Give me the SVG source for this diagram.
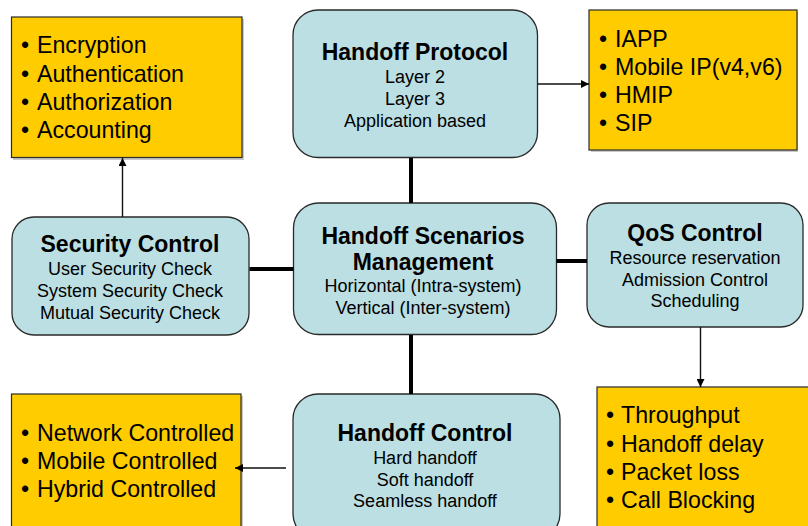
<svg xmlns="http://www.w3.org/2000/svg" width="808" height="526" viewBox="0 0 808 526">
  <style>
    .node { fill: #BBDFE2; stroke: #2a2a2a; stroke-width: 1.3; }
    .list { fill: #FFCC00; stroke: #2a2a2a; stroke-width: 1.2; }
    .shadow { fill: #9a9a9a; opacity: 0.55; }
    .title { font-family: "Liberation Sans", Arial, sans-serif; font-weight: bold; font-size: 23px; fill: #000; text-anchor: middle; }
    .sub { font-family: "Liberation Sans", Arial, sans-serif; font-size: 18px; fill: #000; text-anchor: middle; }
    .item { font-family: "Liberation Sans", Arial, sans-serif; font-size: 23.2px; fill: #000; }
    .trunk { stroke: #000; stroke-width: 4; fill: none; }
    .link { stroke: #111; stroke-width: 1.4; fill: none; marker-end: url(#arrow); }
  </style>
  <defs>
    <marker id="arrow" viewBox="0 0 10 10" refX="10" refY="5" markerWidth="8" markerHeight="8" markerUnits="userSpaceOnUse" orient="auto">
      <path d="M0,0 L10,5 L0,10 z" fill="#000"/>
    </marker>
  </defs>

  <rect width="808" height="526" fill="#fff"/>

  <!-- security attributes -->
  <g id="security-list">
    <rect class="shadow" x="13" y="19" width="231" height="141"/>
    <rect class="list" x="11.5" y="17" width="230.5" height="140.5"/>
    <text class="item" y="53"><tspan x="21">•</tspan><tspan x="37">Encryption</tspan></text>
    <text class="item" y="81.5"><tspan x="21">•</tspan><tspan x="37">Authentication</tspan></text>
    <text class="item" y="110"><tspan x="21">•</tspan><tspan x="37">Authorization</tspan></text>
    <text class="item" y="138"><tspan x="21">•</tspan><tspan x="37">Accounting</tspan></text>
  </g>

  <!-- handoff protocol -->
  <g id="handoff-protocol">
    <rect class="node" x="293" y="10" width="244.5" height="147.5" rx="25"/>
    <text class="title" x="415" y="60">Handoff Protocol</text>
    <text class="sub" x="415" y="83">Layer 2</text>
    <text class="sub" x="415" y="105">Layer 3</text>
    <text class="sub" x="415" y="127">Application based</text>
  </g>

  <!-- protocol list -->
  <g id="protocol-list">
    <rect class="shadow" x="591" y="12" width="207" height="140"/>
    <rect class="list" x="589" y="10" width="208" height="140"/>
    <text class="item" y="47"><tspan x="599">•</tspan><tspan x="615">IAPP</tspan></text>
    <text class="item" y="75"><tspan x="599">•</tspan><tspan x="615">Mobile IP(v4,v6)</tspan></text>
    <text class="item" y="103"><tspan x="599">•</tspan><tspan x="615">HMIP</tspan></text>
    <text class="item" y="131"><tspan x="599">•</tspan><tspan x="615">SIP</tspan></text>
  </g>

  <!-- security control -->
  <g id="security-control">
    <rect class="node" x="12" y="217" width="237" height="118" rx="22"/>
    <text class="title" x="130" y="252">Security Control</text>
    <text class="sub" x="130" y="274.5">User Security Check</text>
    <text class="sub" x="130" y="296.5">System Security Check</text>
    <text class="sub" x="130" y="318.5">Mutual Security Check</text>
  </g>

  <!-- handoff scenarios management -->
  <g id="handoff-scenarios">
    <rect class="node" x="293.5" y="203" width="263" height="131.5" rx="25"/>
    <text class="title" x="423" y="244">Handoff Scenarios</text>
    <text class="title" x="423" y="270">Management</text>
    <text class="sub" x="423" y="292">Horizontal (Intra-system)</text>
    <text class="sub" x="423" y="314">Vertical (Inter-system)</text>
  </g>

  <!-- qos control -->
  <g id="qos-control">
    <rect class="node" x="587" y="203" width="216" height="124" rx="22"/>
    <text class="title" x="695" y="241">QoS Control</text>
    <text class="sub" x="695" y="264">Resource reservation</text>
    <text class="sub" x="695" y="286">Admission Control</text>
    <text class="sub" x="695" y="307">Scheduling</text>
  </g>

  <!-- control modes list -->
  <g id="control-list">
    <rect class="shadow" x="13" y="396" width="230" height="140"/>
    <rect class="list" x="11.5" y="394" width="229.5" height="140"/>
    <text class="item" y="441"><tspan x="21">•</tspan><tspan x="37">Network Controlled</tspan></text>
    <text class="item" y="469"><tspan x="21">•</tspan><tspan x="37">Mobile Controlled</tspan></text>
    <text class="item" y="497"><tspan x="21">•</tspan><tspan x="37">Hybrid Controlled</tspan></text>
  </g>

  <!-- handoff control -->
  <g id="handoff-control">
    <rect class="node" x="293" y="394" width="267" height="145" rx="25"/>
    <text class="title" x="425" y="441">Handoff Control</text>
    <text class="sub" x="425" y="464">Hard handoff</text>
    <text class="sub" x="425" y="485.5">Soft handoff</text>
    <text class="sub" x="425" y="507">Seamless handoff</text>
  </g>

  <!-- qos metrics list -->
  <g id="metrics-list">
    <rect class="shadow" x="599" y="389" width="220" height="150"/>
    <rect class="list" x="597" y="387" width="220" height="150"/>
    <text class="item" y="423"><tspan x="606">•</tspan><tspan x="621">Throughput</tspan></text>
    <text class="item" y="451.5"><tspan x="606">•</tspan><tspan x="621">Handoff delay</tspan></text>
    <text class="item" y="479.5"><tspan x="606">•</tspan><tspan x="621">Packet loss</tspan></text>
    <text class="item" y="507.5"><tspan x="606">•</tspan><tspan x="621">Call Blocking</tspan></text>
  </g>

  <!-- connectors, drawn last so arrowheads sit on top of the boxes -->
  <g id="connectors">
    <line class="trunk" x1="411" y1="158" x2="411" y2="203"/>
    <line class="trunk" x1="411" y1="335" x2="411" y2="394"/>
    <line class="trunk" x1="249.5" y1="269" x2="293.5" y2="269"/>
    <line class="trunk" x1="556.5" y1="261" x2="587" y2="261"/>
    <line class="link" x1="122.5" y1="217" x2="122.5" y2="158"/>
    <line class="link" x1="537.5" y1="84" x2="589" y2="84"/>
    <line class="link" x1="700.5" y1="327" x2="700.5" y2="387"/>
    <line class="link" x1="286" y1="468" x2="235" y2="468"/>
  </g>
</svg>
